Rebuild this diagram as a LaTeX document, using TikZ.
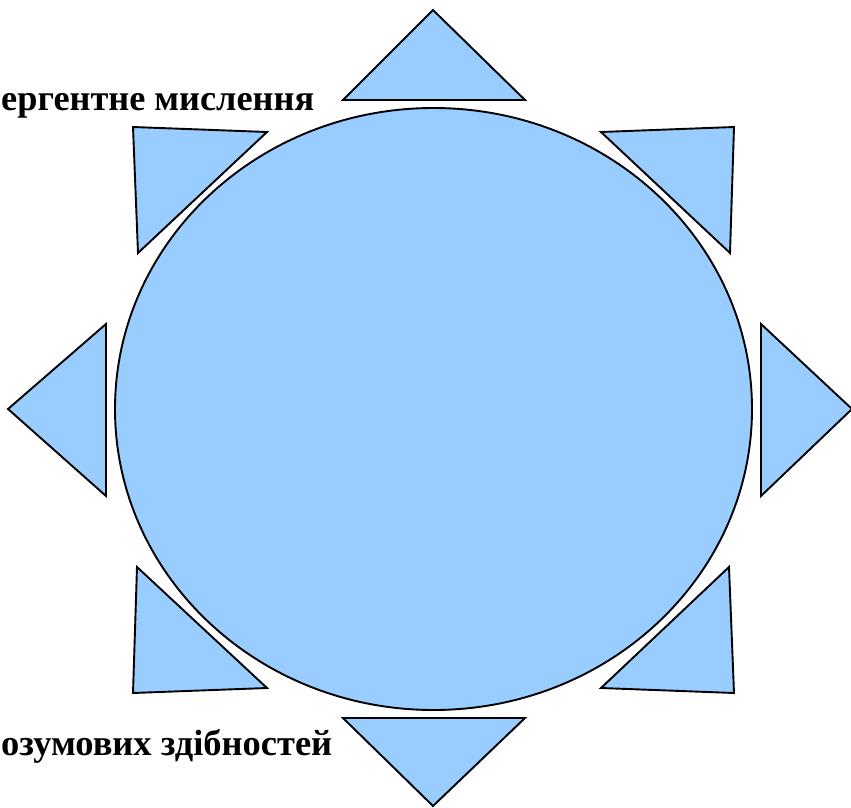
\documentclass[tikz,border=0pt]{standalone}
\usepackage{fontspec}
\usepackage{graphicx}
\setmainfont{Liberation Serif}
\definecolor{skyfill}{HTML}{99CCFF}
\begin{document}
\begin{tikzpicture}[x=1pt,y=-1pt,
  shapebox/.style={draw=black,fill=skyfill,line width=1.9pt,line join=miter},
  lbl/.style={font=\bfseries\fontsize{38}{44}\selectfont,inner sep=0pt,anchor=base west}]
\useasboundingbox (0,0) rectangle (851,808);
\begin{scope}
\clip (0,0) rectangle (851,808);
% central ellipse
\draw[shapebox] (433.5,409) ellipse [x radius=318.5, y radius=301];
% triangles
\draw[shapebox] (433,10) -- (525,100) -- (343,100) -- cycle;
\draw[shapebox] (433,806) -- (525,718) -- (343,718) -- cycle;
\draw[shapebox] (8,409) -- (106,324) -- (106,496) -- cycle;
\draw[shapebox] (852,409) -- (761,324) -- (761,496) -- cycle;
\draw[shapebox] (133,127) -- (267,132) -- (138,253) -- cycle;
\draw[shapebox] (601,132) -- (734,127) -- (730,253) -- cycle;
\draw[shapebox] (137,567) -- (133,693) -- (267,688) -- cycle;
\draw[shapebox] (729,567) -- (734,693) -- (601,688) -- cycle;
\end{scope}
% labels
\node[lbl] (t1) at (1,110) {\resizebox{313pt}{!}{ергентне мислення}};
\node[lbl] (t2) at (1,755) {\resizebox{331pt}{!}{озумових здібностей}};
\end{tikzpicture}
\end{document}
